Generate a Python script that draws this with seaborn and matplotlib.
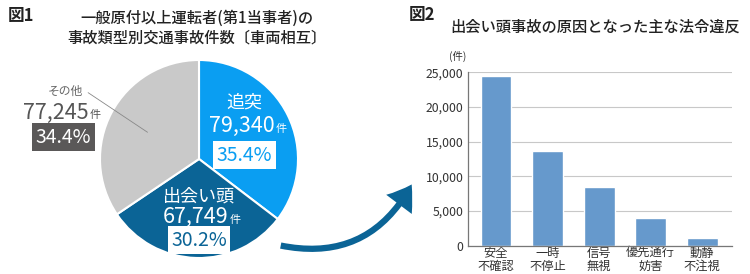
import matplotlib
matplotlib.use('Agg')
import matplotlib.pyplot as plt
import seaborn as sns
import pandas as pd
from matplotlib.patches import FancyArrowPatch
from matplotlib.ticker import FuncFormatter

# --- Data ---
pie_labels = ['追突', '出会い頭', 'その他']
pie_counts = [79340, 67749, 77245]
pie_shares = ['35.4%', '30.2%', '34.4%']
pie_colors = ['#0A9EF2', '#0B6496', '#C9C9C9']

cause_labels = ['安全\n不確認', '一時\n不停止', '信号\n無視', '優先通行\n妨害', '動静\n不注視']
cause_counts = [24400, 13700, 8400, 4000, 1100]

sns.set_theme(style="white")
plt.rcParams['font.family'] = ['Noto Sans CJK JP', 'DejaVu Sans']
plt.rcParams['axes.unicode_minus'] = False

W, H = 750, 274
fig = plt.figure(figsize=(W / 100, H / 100), dpi=100)


def fx(px):
    return px / W


def fy(py):
    return 1 - py / H


# --- Fig 1: pie ---
cx, cy, r = 199, 159, 99
ax_pie = fig.add_axes([fx(cx - r), fy(cy + r), 2 * r / W, 2 * r / H])
ax_pie.pie(pie_counts, colors=pie_colors, startangle=90, counterclock=False,
           radius=1, wedgeprops=dict(edgecolor='white', linewidth=1.5))
ax_pie.set_xlim(-1, 1)
ax_pie.set_ylim(-1, 1)
ax_pie.axis('off')

txt = dict(ha='center', va='center', clip_on=False)
box_pad = 'square,pad=0.18'
# 追突
ax_pie.text(0.46, 0.57, pie_labels[0], color='white', fontsize=13, **txt)
ax_pie.text(0.76, 0.33, f"{pie_counts[0]:,}", color='white', fontsize=15.5,
            ha='right', va='center')
ax_pie.text(0.77, 0.30, '件', color='white', fontsize=8, ha='left', va='center')
ax_pie.text(0.46, 0.04, pie_shares[0], color=pie_colors[0], fontsize=14,
            bbox=dict(boxstyle=box_pad, fc='white', ec='none'), **txt)
# 出会い頭
ax_pie.text(0.0, -0.38, pie_labels[1], color='white', fontsize=13, **txt)
ax_pie.text(0.30, -0.59, f"{pie_counts[1]:,}", color='white', fontsize=15.5,
            ha='right', va='center')
ax_pie.text(0.31, -0.62, '件', color='white', fontsize=8, ha='left', va='center')
ax_pie.text(0.0, -0.82, pie_shares[1], color=pie_colors[1], fontsize=14,
            bbox=dict(boxstyle=box_pad, fc='white', ec='none'), **txt)
# その他
ax_pie.text(-1.35, 0.68, pie_labels[2], color='#666666', fontsize=8.5, **txt)
ax_pie.text(-1.11, 0.47, f"{pie_counts[2]:,}", color='#555555', fontsize=15.5,
            ha='right', va='center', clip_on=False)
ax_pie.text(-1.10, 0.44, '件', color='#555555', fontsize=8, ha='left', va='center')
ax_pie.text(-1.37, 0.22, pie_shares[2], color='white', fontsize=14,
            bbox=dict(boxstyle=box_pad, fc='#5A5858', ec='none'), **txt)
ax_pie.plot([-1.12, -0.52], [0.67, 0.27], color='#888888', lw=0.6, clip_on=False)

fig.text(fx(8), fy(16), '図1', fontsize=12, fontweight='bold', ha='left', va='center', color='#222222')
fig.text(fx(197), fy(18), '一般原付以上運転者(第1当事者)の', fontsize=11,
         fontweight='medium', ha='center', va='center', color='#222222')
fig.text(fx(197), fy(38), '事故類型別交通事故件数〔車両相互〕', fontsize=11,
         fontweight='medium', ha='center', va='center', color='#222222')

# --- Arrow ---
arrow = FancyArrowPatch((fx(278), fy(245)), (fx(413), fy(182)),
                        transform=fig.transFigure,
                        connectionstyle='arc3,rad=0.38',
                        arrowstyle='Simple,head_length=1.7,head_width=2.3,tail_width=0.45',
                        mutation_scale=10, color='#0B6496', lw=0)
fig.patches.append(arrow)

# --- Fig 2: bars ---
left, right, top, bottom = 467.7, 732, 72.3, 245.7
ax_bar = fig.add_axes([fx(left), fy(bottom), (right - left) / W, (bottom - top) / H])
df = pd.DataFrame({'cause': cause_labels, 'count': cause_counts})
sns.barplot(data=df, x='cause', y='count', color='#6699CC', saturation=1,
            width=0.6, ax=ax_bar)
ax_bar.set_ylim(0, 25000)
ax_bar.set_xlim(-0.55, 4.58)
ax_bar.set_yticks(range(0, 25001, 5000))
ax_bar.yaxis.set_major_formatter(FuncFormatter(lambda v, p: f"{int(v):,}"))
ax_bar.yaxis.grid(True, color='#C8C8C8', lw=0.8)
ax_bar.set_axisbelow(True)
ax_bar.set_xlabel('')
ax_bar.set_ylabel('')
for s in ['top', 'right']:
    ax_bar.spines[s].set_visible(False)
for s in ['left', 'bottom']:
    ax_bar.spines[s].set_color('#777777')
    ax_bar.spines[s].set_linewidth(0.9)
ax_bar.tick_params(axis='both', length=0, labelsize=8.8, colors='#333333', pad=3)
ax_bar.tick_params(axis='x', pad=1)
for lbl in ax_bar.get_xticklabels():
    lbl.set_linespacing(0.95)

fig.text(fx(458), fy(56), '(件)', fontsize=7.5, ha='center', va='center', color='#333333')
fig.text(fx(409), fy(15), '図2', fontsize=12, fontweight='bold', ha='left', va='center', color='#222222')
fig.text(fx(595), fy(27), '出会い頭事故の原因となった主な法令違反', fontsize=11,
         fontweight='medium', ha='center', va='center', color='#222222')

fig.savefig('out.png', dpi=100)
plt.close(fig)
